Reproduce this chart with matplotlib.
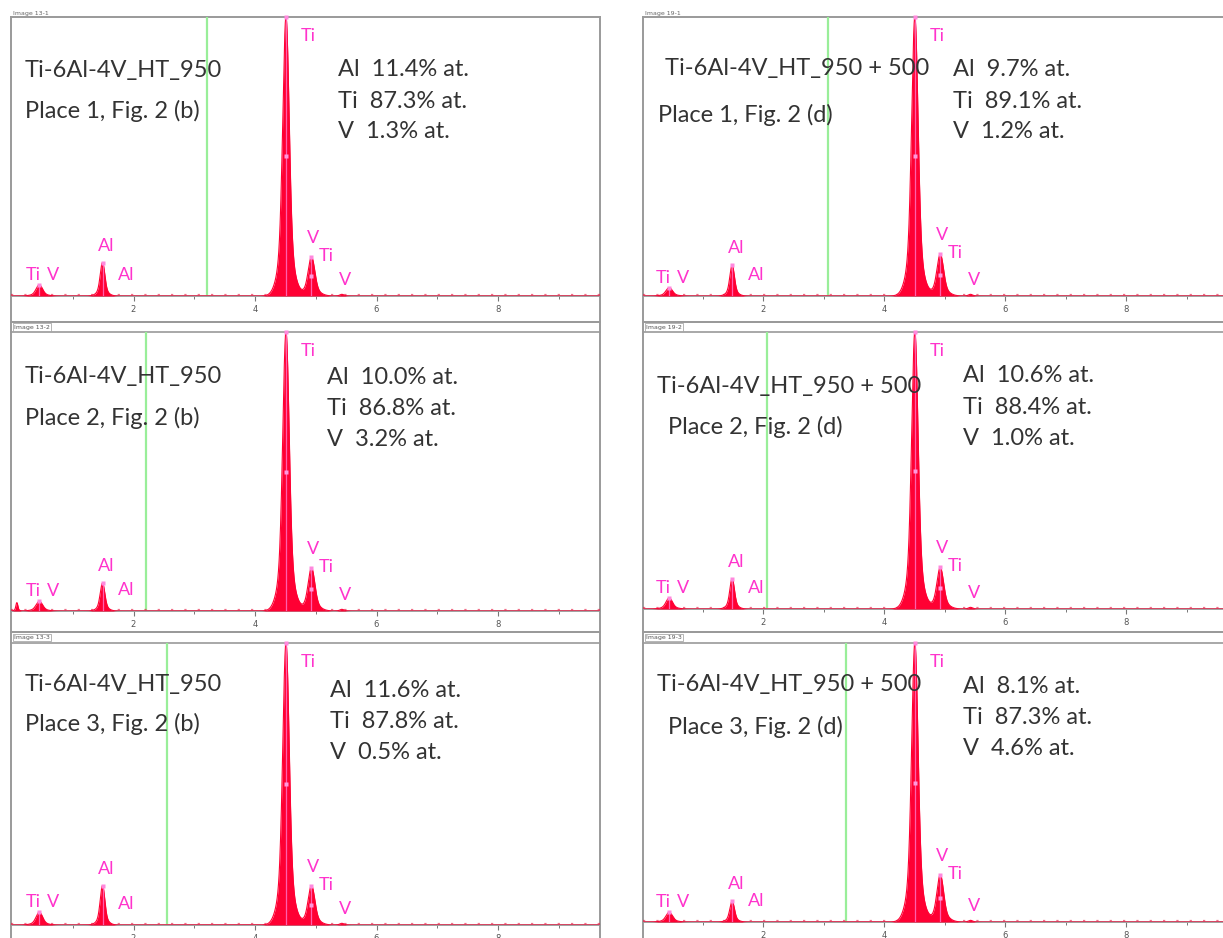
import matplotlib
matplotlib.use("Agg")
import matplotlib.pyplot as plt
import numpy as np
from matplotlib.lines import Line2D
from matplotlib.ticker import FixedLocator, NullFormatter

# ---------------- data ----------------
alloys = ["Ti-6Al-4V_HT_950", "Ti-6Al-4V_HT_950 + 500"]
fig_refs = ["(b)", "(d)"]
places = [1, 2, 3]
image_ids = [["Image 13-1", "Image 13-2", "Image 13-3"],
             ["Image 19-1", "Image 19-2", "Image 19-3"]]

al_at = [[11.4, 10.0, 11.6], [9.7, 10.6, 8.1]]
ti_at = [[87.3, 86.8, 87.8], [89.1, 88.4, 87.3]]
v_at = [[1.3, 3.2, 0.5], [1.2, 1.0, 4.6]]

# X-ray line energies (keV)
e_zero, e_til, e_alka, e_tika, e_tikb, e_vkb = 0.08, 0.45, 1.49, 4.51, 4.93, 5.43
# peak heights relative to Ti K-alpha
h_zero = [[0.0, 0.03, 0.0], [0.0, 0.0, 0.0]]
h_til = [[0.04, 0.035, 0.046], [0.03, 0.04, 0.035]]
h_alka = [[0.12, 0.10, 0.14], [0.11, 0.11, 0.075]]
h_tika = [[1.0, 1.0, 1.0], [1.0, 1.0, 1.0]]
h_tikb = [[0.14, 0.155, 0.14], [0.15, 0.15, 0.17]]
h_vkb = [[0.006, 0.006, 0.006], [0.006, 0.006, 0.006]]
marker_kev = [[3.21, 2.20, 2.55], [3.08, 2.06, 3.38]]
major_ticks = [2, 4, 6, 8]
minor_ticks = [1, 3, 5, 7, 9]

# ---------------- styling / layout ----------------
W, H = 1223, 938
FONT = "Lato"
TXT = "#333333"
MAG = "#FF33CC"
RED = "#FF0033"
GRID = "#9a9a9a"

fig = plt.figure(figsize=(W / 100, H / 100), dpi=100)
fig.patch.set_facecolor("white")


def fx(x):
    return x / W


def fy(y):
    return 1 - y / H


cols = [dict(l=11, r=600, zero=12, ppk=60.75, base=[296, 611, 925]),
        dict(l=643, r=1240, zero=642, ppk=60.5, base=[296, 609, 922])]
row_top = [17, 322, 632]
row_plot_top = [17, 332, 643]
row_bottom = [322, 632, 975]

title_pos = [[(25, 70), (25, 376), (25, 684)], [(665, 68), (657, 386), (657, 684)]]
place_pos = [[(25, 111), (25, 418), (25, 724)], [(658, 115), (668, 427), (668, 727)]]
comp_pos = [[(338, 70), (327, 377), (330, 690)], [(953, 70), (963, 376), (963, 686)]]

egrid = np.linspace(-0.2, 10.5, 4000)


def shape(e, c, s):
    return 0.8 * np.exp(-0.5 * ((e - c) / s) ** 2) + 0.2 * np.exp(-0.5 * ((e - c) / (2.2 * s)) ** 2)


PX = 0.72  # points per pixel
FS = 17

for c in range(2):
    g = cols[c]
    for r in range(3):
        top, ptop, bot, base = row_top[r], row_plot_top[r], row_bottom[r], g["base"][r]
        # outer frame
        fa = fig.add_axes([fx(g["l"]), fy(bot), (g["r"] - g["l"]) / W, (bot - top) / H])
        fa.set_xticks([]); fa.set_yticks([])
        fa.set_facecolor("none")
        for sp in fa.spines.values():
            sp.set_color(GRID); sp.set_linewidth(1.4)
        fa.set_zorder(1)
        if r > 0:
            fig.add_artist(Line2D([fx(g["l"]), fx(min(g["r"], W))], [fy(ptop), fy(ptop)],
                                  color=GRID, lw=1.2))
            fig.text(fx(g["l"] + 3), fy((top + ptop) / 2), image_ids[c][r], fontsize=4.5,
                     color="#555555", va="center", ha="left",
                     bbox=dict(boxstyle="square,pad=0.2", fc="white", ec="#999999", lw=0.5))
        else:
            fig.text(fx(g["l"] + 2), fy(13), image_ids[c][r], fontsize=4.5, color="#666666",
                     va="center", ha="left")

        # spectrum axes
        ax = fig.add_axes([fx(g["l"]), fy(base), (g["r"] - g["l"]) / W, (base - ptop) / H])
        ax.set_zorder(2)
        ax.set_facecolor("none")
        ax.set_xlim((g["l"] - g["zero"]) / g["ppk"], (g["r"] - g["zero"]) / g["ppk"])
        ax.set_ylim(0, 1.0)
        for k in ["top", "left", "right"]:
            ax.spines[k].set_visible(False)
        ax.spines["bottom"].set_color(GRID)
        ax.spines["bottom"].set_linewidth(1.3)
        ax.set_yticks([])
        ax.xaxis.set_major_locator(FixedLocator(major_ticks))
        ax.xaxis.set_minor_locator(FixedLocator(minor_ticks))
        ax.xaxis.set_minor_formatter(NullFormatter())
        ax.tick_params(axis="x", which="major", direction="out", length=3.5, width=0.8,
                       color="#777777", labelsize=6, labelcolor="#555555", pad=3)
        ax.tick_params(axis="x", which="minor", direction="out", length=2, width=0.7,
                       color="#777777")

        # marker line (green)
        ax.axvline(marker_kev[c][r], color="#99EE99", lw=1.6, zorder=1)

        peaks = [(e_zero, h_zero[c][r], 0.015), (e_til, h_til[c][r], 0.05),
                 (e_alka, h_alka[c][r], 0.036), (e_tika, h_tika[c][r], 0.05),
                 (e_tikb, h_tikb[c][r], 0.052), (e_vkb, h_vkb[c][r], 0.03)]
        spec = np.zeros_like(egrid)
        for (e0, hh, s) in peaks:
            spec += hh * shape(egrid, e0, s)
        ax.fill_between(egrid, 0, spec, color=RED, lw=0, zorder=3)
        ax.plot(egrid, spec, color=RED, lw=0.8, zorder=3)
        # baseline noise dots
        ax.axhline(0.004, color="#E8103A", lw=1.6, ls=(0, (1.0, 5.0)), alpha=0.6, zorder=2)

        # pink KLM markers
        for (e0, hh, s) in peaks[1:5]:
            ax.plot([e0, e0], [0, hh], color="#FF77CC", lw=0.9, alpha=0.8, zorder=4)
            ax.plot([e0], [hh], marker="s", ms=3, color="#FF88DD", mec="none",
                    zorder=5, clip_on=False)
        ax.plot([e_tika], [0.5 * h_tika[c][r]], marker="s", ms=3, color="#FF99DD",
                mec="none", zorder=5)
        ax.plot([e_tikb], [0.5 * h_tikb[c][r]], marker="s", ms=3, color="#FF99DD",
                mec="none", zorder=5)

        # element labels
        lab = dict(color=MAG, fontsize=13, family=FONT, va="center", ha="center",
                   textcoords="offset points", annotation_clip=False, zorder=6)
        ax.annotate("Ti", (e_tika, h_tika[c][r]), xytext=(22 * PX, -19 * PX), **lab)
        ax.annotate("V", (e_tikb, h_tikb[c][r]), xytext=(2 * PX, 19 * PX), **lab)
        ax.annotate("Ti", (e_tikb, h_tikb[c][r]), xytext=(15 * PX, 1 * PX), **lab)
        ax.annotate("V", (e_vkb, 0), xytext=(3 * PX, 16 * PX), **lab)
        ax.annotate("Al", (e_alka, h_alka[c][r]), xytext=(4 * PX, 17 * PX), **lab)
        ax.annotate("Al", (e_alka, 0), xytext=(24 * PX, 21 * PX), **lab)
        ax.annotate("Ti", (e_til, h_til[c][r]), xytext=(-6 * PX, 10 * PX), **lab)
        ax.annotate("V", (e_til, h_til[c][r]), xytext=(14 * PX, 10 * PX), **lab)

        # annotation text
        tx, ty = title_pos[c][r]
        fig.text(fx(tx), fy(ty), alloys[c], fontsize=FS, family=FONT, color=TXT,
                 va="center", ha="left", zorder=10)
        px_, py_ = place_pos[c][r]
        fig.text(fx(px_), fy(py_), f"Place {places[r]}, Fig. 2 {fig_refs[c]}", fontsize=FS,
                 family=FONT, color=TXT, va="center", ha="left", zorder=10)
        cx, cy = comp_pos[c][r]
        lines = [f"Al  {al_at[c][r]:.1f}% at.", f"Ti  {ti_at[c][r]:.1f}% at.",
                 f"V  {v_at[c][r]:.1f}% at."]
        for i, t in enumerate(lines):
            fig.text(fx(cx), fy(cy + 31 * i), t, fontsize=FS, family=FONT, color=TXT,
                     va="center", ha="left", zorder=10)

fig.savefig("out.png", dpi=100, facecolor="white")
